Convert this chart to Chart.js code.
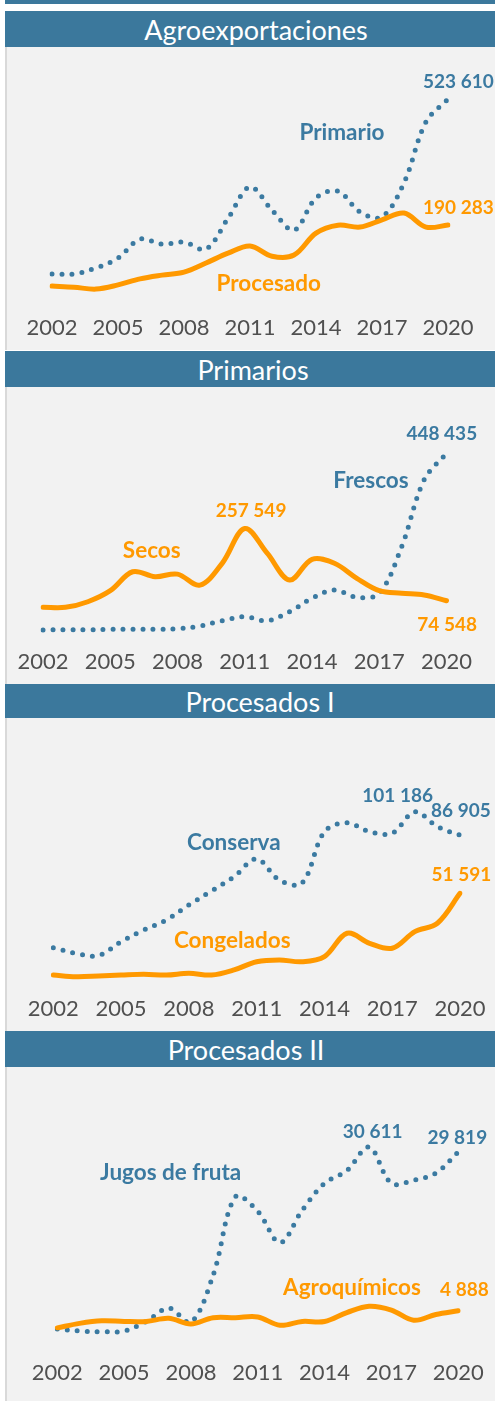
<!DOCTYPE html>
<html>
<head>
<meta charset="utf-8">
<script src="https://cdn.jsdelivr.net/npm/chart.js@4/dist/chart.umd.min.js"></script>
<style>
  body { margin: 0; background: #fff; width: 495px; height: 1401px; position: relative; overflow: hidden; font-family: Lato, sans-serif; }
  .strip { position: absolute; left: 5px; top: 0; width: 490px; height: 4px; background: #3b789c; }
  .title { position: absolute; left: 5px; width: 490px; background: #3b789c; color: #fff; font-size: 27px; text-align: center; box-sizing: border-box; padding-top: 1px; }
  .title span { position: relative; }
  .panel { position: absolute; left: 5px; width: 488px; background: #f2f2f2; border-left: 2px solid #d9d9d9; }
  canvas { position: absolute; left: 0; top: 0; }
</style>
</head>
<body>
<div class="strip"></div>

<div class="title" style="top:11px;height:36px;line-height:35px"><span style="left:6px">Agroexportaciones</span></div>
<div class="panel" style="top:47px;height:303px"><canvas id="c1" width="488" height="303"></canvas></div>

<div class="title" style="top:351px;height:36px;line-height:35px"><span style="left:3px">Primarios</span></div>
<div class="panel" style="top:387px;height:297px"><canvas id="c2" width="488" height="297"></canvas></div>

<div class="title" style="top:684px;height:34px;line-height:33px"><span style="left:10px">Procesados I</span></div>
<div class="panel" style="top:718px;height:313px"><canvas id="c3" width="488" height="313"></canvas></div>

<div class="title" style="top:1031px;height:36px;line-height:35px"><span style="left:-4px">Procesados II</span></div>
<div class="panel" style="top:1067px;height:334px"><canvas id="c4" width="488" height="334"></canvas></div>

<script>
// Años y etiquetas visibles del eje
const years = ["2002", "2003", "2004", "2005", "2006", "2007", "2008", "2009", "2010", "2011",
  "2012", "2013", "2014", "2015", "2016", "2017", "2018", "2019", "2020"];
const shownYears = ["2002", "2005", "2008", "2011", "2014", "2017", "2020"];

// Agroexportaciones
const primario = [61000, 61000, 77000, 103000, 153000, 140000, 145000, 127000, 208000, 291000,
  230000, 177000, 262000, 280000, 225000, 212000, 302000, 463000, 523610];
const procesado = [29000, 26000, 21000, 32000, 48000, 58000, 66000, 90000, 116000, 135000,
  108000, 111000, 169000, 190000, 185000, 204000, 222000, 185000, 190283];

// Primarios
const secos = [57800, 57800, 72000, 100000, 148000, 135500, 142000, 114000, 170000, 257549,
  195000, 127000, 179600, 169500, 131400, 100000, 93400, 89000, 74548];
const frescos = [600, 700, 900, 2000, 2000, 2000, 3500, 10400, 23800, 34000,
  23800, 46700, 80700, 101700, 83200, 93400, 211600, 380800, 448435];

// Procesados I
const congelados = [1900, 900, 1300, 1900, 2400, 1900, 3000, 1900, 5000, 10000,
  11100, 10000, 13100, 27300, 21200, 18200, 28300, 33400, 51591];
const conserva = [18500, 15100, 13700, 22200, 29300, 35400, 44500, 53000, 61700, 72500,
  59700, 57700, 89000, 94500, 89000, 88100, 101186, 92100, 86905];

// Procesados II
const agroquimicos = [2200, 2900, 3300, 3200, 3200, 3700, 2800, 3800, 3800, 3900,
  2600, 3200, 3200, 4600, 5600, 5000, 3400, 4300, 4888];
const jugos = [2000, 1700, 1600, 1700, 3200, 5300, 3100, 10500, 22800, 20500,
  15600, 20700, 24900, 26900, 30611, 24900, 25400, 26500, 29819];

const BLUE = "#3b7aa1";
const ORANGE = "#ff9900";

// 523610 -> "523 610"
function fmt(n) {
  return String(n).replace(/\B(?=(\d{3})+(?!\d))/g, " ");
}

// textos sobre el gráfico, en coordenadas de datos (índice de año, valor)
function notesPlugin(notes) {
  return {
    id: "notes",
    afterDatasetsDraw(chart) {
      const { ctx, scales } = chart;
      ctx.save();
      ctx.textAlign = "center";
      ctx.textBaseline = "middle";
      notes.forEach((n) => {
        ctx.font = "bold " + n.size + "px Lato";
        ctx.fillStyle = n.color;
        ctx.fillText(n.text, scales.x.getPixelForValue(n.i), scales.y.getPixelForValue(n.v));
      });
      ctx.restore();
    },
  };
}

function makeChart(id, solid, dotted, o) {
  const ctx = document.getElementById(id).getContext("2d");
  return new Chart(ctx, {
    type: "line",
    data: {
      labels: years,
      datasets: [
        { data: solid, borderColor: ORANGE, borderWidth: 5, borderCapStyle: "round",
          tension: 0.35, pointRadius: 0 },
        { data: dotted, borderColor: BLUE, borderWidth: 5, borderDash: [0, 10],
          borderCapStyle: "round", tension: 0.35, pointRadius: 0 },
      ],
    },
    options: {
      responsive: false,
      animation: false,
      layout: { padding: { left: o.left, right: o.right, top: o.top, bottom: 0 } },
      plugins: { legend: { display: false }, tooltip: { enabled: false } },
      scales: {
        x: {
          grid: { display: false, drawTicks: false },
          border: { display: false },
          ticks: {
            autoSkip: false, maxRotation: 0, padding: o.tickPad, color: "#505050",
            font: { family: "Lato", size: 22 },
            callback: (v, i) => (shownYears.includes(years[i]) ? years[i] : ""),
          },
          afterFit: (s) => { s.height = o.axisH; },
        },
        y: { display: false, min: o.min, max: o.max },
      },
    },
    plugins: [notesPlugin(o.notes)],
  });
}

makeChart("c1", procesado, primario, {
  left: 45, right: 47, top: 23.1, axisH: 45.4, tickPad: 10.2, min: -20000, max: 600000,
  notes: [
    { text: fmt(primario[18]), i: 18.47, v: 569500, color: BLUE, size: 19 },
    { text: "Primario", i: 13.18, v: 435000, color: BLUE, size: 22.5 },
    { text: fmt(procesado[18]), i: 18.47, v: 236700, color: ORANGE, size: 19 },
    { text: "Procesado", i: 9.85, v: 34400, color: ORANGE, size: 22.5 },
  ],
});

makeChart("c2", secos, frescos, {
  left: 32, right: 48.5, top: 22.3, axisH: 46, tickPad: 10.5, min: -20000, max: 560000,
  notes: [
    { text: fmt(frescos[18]), i: 17.79, v: 496700, color: BLUE, size: 19 },
    { text: "Frescos", i: 14.63, v: 379500, color: BLUE, size: 22.5 },
    { text: fmt(secos[9]), i: 9.28, v: 302700, color: ORANGE, size: 19 },
    { text: "Secos", i: 4.85, v: 201200, color: ORANGE, size: 22.5 },
    { text: fmt(secos[18]), i: 18.03, v: 12200, color: ORANGE, size: 19 },
  ],
});

makeChart("c3", congelados, conserva, {
  left: 46.3, right: 35, top: 29.9, axisH: 44.6, tickPad: 9.4, min: -5000, max: 140000,
  notes: [
    { text: fmt(conserva[16]), i: 15.24, v: 111000, color: BLUE, size: 19 },
    { text: fmt(conserva[18]), i: 18.04, v: 101500, color: BLUE, size: 19 },
    { text: "Conserva", i: 7.99, v: 82500, color: BLUE, size: 22.5 },
    { text: fmt(congelados[18]), i: 18.06, v: 62600, color: ORANGE, size: 19 },
    { text: "Congelados", i: 7.92, v: 22700, color: ORANGE, size: 22.5 },
  ],
});

makeChart("c4", agroquimicos, jugos, {
  left: 50.3, right: 31.7, top: 33, axisH: 52.8, tickPad: 11.3, min: -1000, max: 38000,
  notes: [
    { text: fmt(jugos[14]), i: 14.16, v: 33000, color: BLUE, size: 19 },
    { text: fmt(jugos[18]), i: 17.96, v: 32000, color: BLUE, size: 19 },
    { text: "Jugos de fruta", i: 5.09, v: 26600, color: BLUE, size: 22.5 },
    { text: "Agroquímicos", i: 13.23, v: 8500, color: ORANGE, size: 22.5 },
    { text: fmt(agroquimicos[18]), i: 18.28, v: 8200, color: ORANGE, size: 19 },
  ],
});
</script>
</body>
</html>
